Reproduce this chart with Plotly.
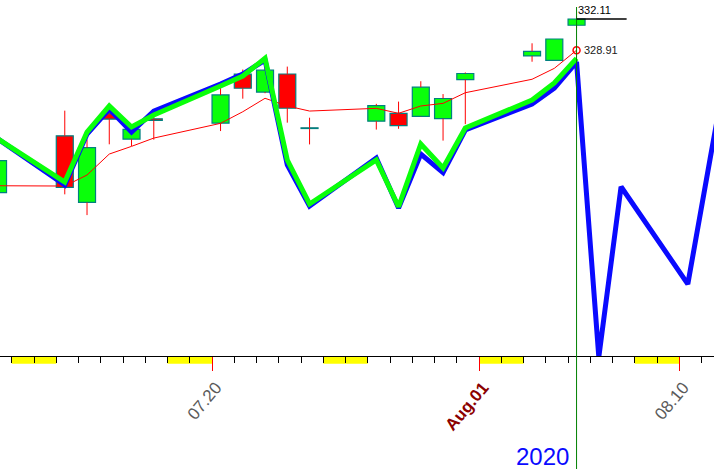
import plotly.graph_objects as go
import pandas as pd

# ---------------- data ----------------
dates = ['2020-07-10', '2020-07-13', '2020-07-14', '2020-07-15', '2020-07-16', '2020-07-17',
         '2020-07-20', '2020-07-21', '2020-07-22', '2020-07-23', '2020-07-24',
         '2020-07-27', '2020-07-28', '2020-07-29', '2020-07-30', '2020-07-31',
         '2020-08-03', '2020-08-04', '2020-08-05']
opens = [314.31, 320.13, 313.30, 322.41, 319.79, 321.88,
         321.43, 326.45, 324.62, 326.47, 320.95,
         321.63, 322.43, 322.12, 321.90, 325.90,
         328.32, 327.86, 331.47]
highs = [317.88, 322.71, 319.76, 323.04, 321.28, 322.57,
         325.13, 326.93, 327.20, 327.23, 321.99,
         323.41, 323.64, 325.73, 324.41, 326.63,
         329.62, 330.06, 332.39]
lows = [312.76, 314.13, 312.00, 319.26, 319.09, 319.74,
        320.62, 323.94, 324.50, 321.48, 319.25,
        320.77, 320.85, 322.08, 319.64, 321.33,
        327.73, 327.86, 331.18]
closes = [317.59, 314.84, 318.92, 321.85, 320.79, 321.72,
          324.32, 325.01, 326.86, 322.96, 320.88,
          323.22, 321.17, 325.12, 323.96, 326.52,
          328.79, 330.06, 332.11]
ma_values = [315.01, 314.98, 316.11, 318.26, 319.05, 319.90,
             321.41, 322.60, 323.98, 323.19, 322.67,
             322.95, 322.44, 323.19, 323.46, 324.55,
             325.93, 327.05, 328.91]
green_values = [319.80, 315.39, 320.52, 323.19, 321.03, 322.26,
                325.24, 326.26, 328.08, 317.65, 313.14,
                317.65, 312.86, 319.29, 316.83, 320.93,
                323.80, 325.55, 328.08]
blue_dates = dates + ['2020-08-06', '2020-08-07', '2020-08-10', '2020-08-11', '2020-08-12']
blue_values = [319.80, 315.08, 320.32, 322.88, 320.52, 322.67,
               325.44, 326.47, 327.90, 317.14, 312.93,
               317.85, 312.73, 318.26, 316.35, 320.73,
               323.39, 325.03, 327.70,
               297.44, 314.91, 304.93, 317.75, 330.37]
tick_dates = ['2020-07-20', '2020-08-01', '2020-08-10']
tick_labels = ['07.20', 'Aug.01', '08.10']
weekend_starts = ['2020-07-11', '2020-07-18', '2020-07-25', '2020-08-01', '2020-08-08']
year_label = '2020'
last_close_label = '332.11'
last_ma_label = '328.91'

# ---------------- styling ----------------
OFFSET = pd.Timedelta(hours=9.2)
BAR_W_MS = 0.764 * 86400000
GREEN = '#0aff0a'
RED = '#ff0000'
TEAL = '#008080'
BLUE = '#0a0aff'
FONT = 'Liberation Sans, Arial, sans-serif'

xd = pd.to_datetime(dates) + OFFSET
xb = pd.to_datetime(blue_dates) + OFFSET
ref = pd.Timestamp('2020-07-20')
x_range = [ref - pd.Timedelta(days=9.528), ref + pd.Timedelta(days=22.56)]
y_range = [297.55, 334.06]

fig = go.Figure()

# candle bodies
base = [min(o, c) for o, c in zip(opens, closes)]
height = [abs(c - o) for o, c in zip(opens, closes)]
colors = [GREEN if c >= o else RED for o, c in zip(opens, closes)]
fig.add_trace(go.Bar(x=xd, y=height, base=base, width=BAR_W_MS,
                     marker=dict(color=colors, line=dict(color=TEAL, width=1.2)),
                     showlegend=False, hoverinfo='skip'))

# wicks
wx, wy = [], []
for x, h, l, o, c in zip(xd, highs, lows, opens, closes):
    wx += [x, x, None, x, x, None]
    wy += [h, max(o, c), None, min(o, c), l, None]
fig.add_trace(go.Scatter(x=wx, y=wy, mode='lines', line=dict(color=RED, width=1),
                         showlegend=False, hoverinfo='skip'))

# moving average
fig.add_trace(go.Scatter(x=xd, y=ma_values, mode='lines', line=dict(color=RED, width=1),
                         showlegend=False, hoverinfo='skip'))
fig.add_trace(go.Scatter(x=[xd[-1]], y=[ma_values[-1]], mode='markers',
                         marker=dict(symbol='circle-open', size=7, color=RED, line=dict(width=1.5)),
                         showlegend=False, hoverinfo='skip'))

# blue and green lines
fig.add_trace(go.Scatter(x=xb, y=blue_values, mode='lines', line=dict(color=BLUE, width=5),
                         showlegend=False, hoverinfo='skip'))
fig.add_trace(go.Scatter(x=xd, y=green_values, mode='lines', line=dict(color=GREEN, width=5),
                         showlegend=False, hoverinfo='skip'))

shapes = []
for w in weekend_starts:
    s = pd.Timestamp(w)
    shapes.append(dict(type='rect', xref='x', yref='paper', x0=s, x1=s + pd.Timedelta(days=2),
                       y0=-7.7 / 356, y1=0, fillcolor='#ffff00', line=dict(width=0), layer='below'))
# vertical marker at last bar
shapes.append(dict(type='line', xref='x', yref='paper', x0=xd[-1], x1=xd[-1],
                   y0=-113 / 356, y1=(356 - 7) / 356, line=dict(color='#008000', width=1)))
# last close line
shapes.append(dict(type='line', xref='x', yref='y', x0=xd[-1], x1=xd[-1] + pd.Timedelta(days=2.25),
                   y0=closes[-1], y1=closes[-1], line=dict(color='black', width=1.5)))

annotations = [
    dict(x=xd[-1], y=closes[-1], xref='x', yref='y', text=last_close_label, showarrow=False,
         xanchor='left', yanchor='bottom', xshift=-1, yshift=1,
         font=dict(family=FONT, size=11, color='black')),
    dict(x=xd[-1], y=ma_values[-1], xref='x', yref='y', text=last_ma_label, showarrow=False,
         xanchor='left', yanchor='middle', xshift=5,
         font=dict(family=FONT, size=11, color='#202020')),
    dict(x=xd[-1], y=-113 / 356, xref='x', yref='paper', text=year_label, showarrow=False,
         xanchor='right', yanchor='bottom', xshift=-6, yshift=-3,
         font=dict(family=FONT, size=24, color='#0a0aff')),
]

ticktext = []
for t in tick_labels:
    if t.startswith('Aug'):
        ticktext.append('<span style="color:#8b0000"><b>%s</b></span>' % t)
    else:
        ticktext.append(t)

fig.update_layout(
    width=714, height=469,
    margin=dict(l=0, r=0, t=0, b=113, pad=0, autoexpand=False),
    paper_bgcolor='white', plot_bgcolor='white',
    showlegend=False,
    bargap=0,
    hovermode=False,
    shapes=shapes, annotations=annotations,
    xaxis=dict(type='date', range=x_range, showgrid=False, zeroline=False, automargin=False,
               showline=True, linecolor='black', linewidth=1,
               tickmode='array', tickvals=tick_dates, ticktext=ticktext,
               ticks='outside', ticklen=14, tickcolor=RED, tickwidth=1,
               ticklabelshift=4,
               tickangle=-50, tickfont=dict(family=FONT, size=17, color='#5a5a5a'),
               minor=dict(dtick=86400000, tick0='2020-07-01', ticks='outside', ticklen=6,
                          tickcolor='black', tickwidth=1, showgrid=False)),
    yaxis=dict(range=y_range, visible=False, showgrid=False, zeroline=False, automargin=False),
)

fig.write_html('out.html', config={'displayModeBar': False, 'staticPlot': True},
               post_script="document.body.style.margin='0px';document.body.style.overflow='hidden';")
